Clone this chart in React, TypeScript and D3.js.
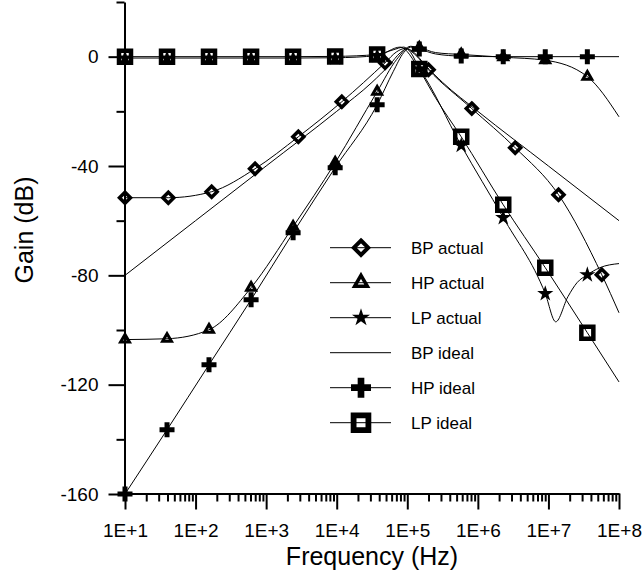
import React, { useEffect, useRef } from "react";
import * as d3 from "d3";

// axis ticks
const decades = [1e1, 1e2, 1e3, 1e4, 1e5, 1e6, 1e7, 1e8];
const gainTicks = [-160, -120, -80, -40, 0];
const gainMinorTicks = [-140, -100, -60, -20, 20];

// BP actual (diamonds)
const bpActualHz = [10, 41.1, 169, 697, 2860, 1.18e4, 4.85e4, 7.08e4, 9.33e4, 1.26e5, 2.0e5, 8.2e5, 3.38e6, 1.39e7, 5.71e7, 1e8];
const bpActualDb = [-51.6, -51.6, -49.4, -41.0, -29.3, -16.5, -2.2, 1.8, 3.0, 1.0, -4.8, -19.0, -33.3, -50.5, -79.8, -93.7];
const bpActualMarks = [0, 1, 2, 3, 4, 5, 6, 10, 11, 12, 13, 14];

// HP actual (triangles)
const hpActualHz = [10, 39.4, 155, 612, 2410, 9510, 3.74e4, 7.08e4, 1.12e5, 1.48e5, 2.51e5, 5.81e5, 2.29e6, 9.02e6, 3.56e7, 1e8];
const hpActualDb = [-103.5, -103.2, -99.9, -84.5, -62.2, -38.8, -12.8, -1.0, 3.8, 3.3, 1.5, 0.8, -0.2, -1.3, -7.3, -22];
const hpActualMarks = [0, 1, 2, 3, 4, 5, 6, 9, 11, 12, 13, 14];

// LP actual (stars)
const lpActualHz = [10, 39.4, 155, 612, 2410, 9510, 3.74e4, 7.94e4, 1.48e5, 5.81e5, 2.29e6, 9.02e6, 1.27e7, 1.89e7, 2.54e7, 3.56e7, 5.37e7, 1e8];
const lpActualDb = [-0.5, -0.5, -0.5, -0.5, -0.5, -0.4, 0.4, 3.5, -4.5, -32.5, -58.9, -86.7, -97, -87.8, -82.7, -79.8, -77.2, -75.7];
const lpActualMarks = [0, 1, 2, 3, 4, 5, 6, 8, 9, 10, 11, 15];

// BP ideal (line only)
const bpIdealHz = [10, 100, 1000, 1e4, 3.16e4, 5.62e4, 7.94e4, 1e5, 1.26e5, 1.78e5, 3.16e5, 1e6, 1e7, 1e8];
const bpIdealDb = [-80, -60, -40, -20, -9.4, -3.0, 1.4, 2.9, 1.4, -3.0, -9.4, -20, -40, -60];

// HP ideal (crosses)
const hpIdealHz = [10, 39.4, 155, 612, 2410, 9510, 3.74e4, 6.31e4, 8.91e4, 1.12e5, 1.48e5, 2.51e5, 5.81e5, 2.29e6, 9.02e6, 3.56e7, 1e8];
const hpIdealDb = [-160, -136.5, -112.7, -88.9, -64.4, -40.6, -17.6, -5.5, 1.5, 3.5, 2.8, 1.0, 0.2, 0, 0, 0, 0];
const hpIdealMarks = [0, 1, 2, 3, 4, 5, 6, 10, 12, 13, 14, 15];

// LP ideal (squares)
const lpIdealHz = [10, 39.4, 155, 612, 2410, 9510, 3.74e4, 6.31e4, 8.91e4, 1.12e5, 1.48e5, 2.51e5, 5.81e5, 2.29e6, 9.02e6, 3.56e7, 1e8];
const lpIdealDb = [0, 0, 0, 0, 0, 0.1, 0.8, 2.5, 3.5, 1.5, -4.5, -15, -29.3, -54.2, -77.2, -101, -119];
const lpIdealMarks = [0, 1, 2, 3, 4, 5, 6, 10, 12, 13, 14, 15];

const FONT = "'Liberation Sans', Arial, Helvetica, sans-serif";

type Shape = "diamond" | "triangle" | "star" | "none" | "cross" | "square";

const series: { name: string; hz: number[]; db: number[]; marks: number[]; shape: Shape }[] = [
  { name: "BP actual", hz: bpActualHz, db: bpActualDb, marks: bpActualMarks, shape: "diamond" },
  { name: "HP actual", hz: hpActualHz, db: hpActualDb, marks: hpActualMarks, shape: "triangle" },
  { name: "LP actual", hz: lpActualHz, db: lpActualDb, marks: lpActualMarks, shape: "star" },
  { name: "BP ideal", hz: bpIdealHz, db: bpIdealDb, marks: [], shape: "none" },
  { name: "HP ideal", hz: hpIdealHz, db: hpIdealDb, marks: hpIdealMarks, shape: "cross" },
  { name: "LP ideal", hz: lpIdealHz, db: lpIdealDb, marks: lpIdealMarks, shape: "square" },
];

// draw a marker into a selection (big = legend size)
function drawMarker(g: any, shape: Shape, big: boolean) {
  if (shape === "diamond") {
    const r = big ? 7.2 : 5.5;
    g.append("path")
      .attr("d", `M0,${-r}L${r},0L0,${r}L${-r},0Z`)
      .attr("fill", "none")
      .attr("stroke", "#000")
      .attr("stroke-width", big ? 4 : 3.5);
  } else if (shape === "triangle") {
    g.append("path")
      .attr("d", d3.symbol(d3.symbolTriangle, big ? 70 : 34)())
      .attr("fill", "none")
      .attr("stroke", "#000")
      .attr("stroke-width", big ? 3.5 : 3);
  } else if (shape === "star") {
    g.append("path")
      .attr("d", d3.symbol(d3.symbolStar, big ? 101 : 81)())
      .attr("fill", "#000");
  } else if (shape === "cross") {
    g.append("path")
      .attr("d", d3.symbol(d3.symbolCross, big ? 222 : 125)())
      .attr("fill", "#000");
  } else if (shape === "square") {
    const s = big ? 7.4 : 6;
    g.append("path")
      .attr("d", `M${-s},${-s}H${s}V${s}H${-s}Z`)
      .attr("fill", "none")
      .attr("stroke", "#000")
      .attr("stroke-width", big ? 5.8 : 4.5);
  }
}

const FilterChart = () => {
  const ref = useRef<SVGSVGElement>(null);

  useEffect(() => {
    const width = 643;
    const height = 578;
    const svg = d3.select(ref.current);
    svg.selectAll("*").remove();

    const x = d3.scaleLog().domain([1e1, 1e8]).range([125, 619]);
    const y = d3.scaleLinear().domain([-160, 20]).range([494, 2]);

    // minor ticks 2..9 per decade
    const minorHz: number[] = [];
    decades.slice(0, -1).forEach((d) => {
      for (let k = 2; k <= 9; k++) minorHz.push(d * k);
    });

    // x axis
    const xAxis = svg
      .append("g")
      .attr("transform", `translate(0,${493.5})`)
      .call(
        d3
          .axisBottom(x)
          .tickValues(decades)
          .tickSize(16)
          .tickSizeOuter(0)
          .tickPadding(14)
          .tickFormat((d: any) => `1E+${Math.round(Math.log10(d))}`)
      );
    svg
      .append("g")
      .attr("transform", `translate(0,${493.5})`)
      .call(d3.axisBottom(x).tickValues(minorHz).tickSize(8).tickFormat(() => ""))
      .call((g) => g.select(".domain").remove());

    // y axis (plain hyphen minus like the original)
    const yAxis = svg
      .append("g")
      .attr("transform", `translate(${124.5},0)`)
      .call(
        d3
          .axisLeft(y)
          .tickValues(gainTicks)
          .tickSize(16)
          .tickSizeOuter(0)
          .tickPadding(10)
          .tickFormat((d: any) => String(d))
      );
    svg
      .append("g")
      .attr("transform", `translate(${124.5},0)`)
      .call(d3.axisLeft(y).tickValues(gainMinorTicks).tickSize(8).tickFormat(() => ""))
      .call((g) => g.select(".domain").remove());

    svg.selectAll(".domain, .tick line").attr("stroke", "#000").attr("stroke-width", 2);
    [xAxis, yAxis].forEach((a) =>
      a.selectAll("text").attr("font-family", FONT).attr("font-size", 19).attr("fill", "#000")
    );

    // axis titles
    svg
      .append("text")
      .attr("x", 372)
      .attr("y", 565)
      .attr("text-anchor", "middle")
      .attr("font-family", FONT)
      .attr("font-size", 25)
      .text("Frequency (Hz)");
    svg
      .append("text")
      .attr("transform", "translate(33,230) rotate(-90)")
      .attr("text-anchor", "middle")
      .attr("font-family", FONT)
      .attr("font-size", 25)
      .text("Gain (dB)");

    // lines
    series.forEach((s) => {
      const line = d3
        .line<number>()
        .x((_, i) => x(s.hz[i]))
        .y((d) => y(d))
        .curve(d3.curveMonotoneX);
      svg
        .append("path")
        .attr("d", line(s.db))
        .attr("fill", "none")
        .attr("stroke", "#000")
        .attr("stroke-width", 1);
    });

    // markers
    series.forEach((s) => {
      s.marks.forEach((i) => {
        const g = svg.append("g").attr("transform", `translate(${x(s.hz[i])},${y(s.db[i])})`);
        drawMarker(g, s.shape, false);
      });
    });

    // legend
    const legend = svg.append("g").attr("transform", "translate(330,247.7)");
    series.forEach((s, i) => {
      const row = legend.append("g").attr("transform", `translate(0,${i * 35})`);
      row.append("line").attr("x1", 0).attr("x2", 61).attr("stroke", "#000").attr("stroke-width", 1);
      drawMarker(row.append("g").attr("transform", "translate(31,0)"), s.shape, true);
      row
        .append("text")
        .attr("x", 81)
        .attr("dy", "0.35em")
        .attr("font-family", FONT)
        .attr("font-size", 17)
        .text(s.name);
    });

    svg.attr("width", width).attr("height", height);
  }, []);

  return <svg ref={ref} style={{ position: "absolute", left: 0, top: 0, background: "#fff" }}></svg>;
};

export default function App() {
  return <FilterChart />;
}
